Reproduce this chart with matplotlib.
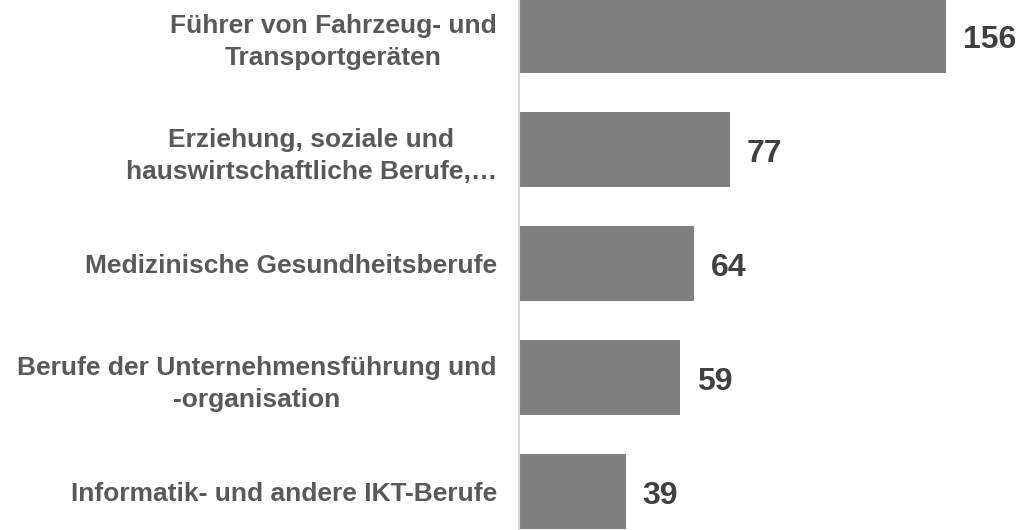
import matplotlib.pyplot as plt

categories = [
    "Führer von Fahrzeug- und\nTransportgeräten",
    "Erziehung, soziale und\nhauswirtschaftliche Berufe,…",
    "Medizinische Gesundheitsberufe",
    "Berufe der Unternehmensführung und\n-organisation",
    "Informatik- und andere IKT-Berufe",
]
values = [156, 77, 64, 59, 39]

plt.rcParams['font.family'] = ['Liberation Sans', 'DejaVu Sans']

fig = plt.figure(figsize=(10.17, 5.30), dpi=100)
ax = fig.add_axes([519 / 1017, 0, 1 - 519 / 1017, 1])

pos = list(range(len(values)))
ax.barh(pos, values, height=0.66, color="#7f7f7f")
ax.set_xlim(0, 182)
ax.set_ylim(4.338, -0.311)

# value labels to the right of each bar
for p, v in zip(pos, values):
    ax.annotate(str(v), (v, p), xytext=(12, -3), textcoords="offset points",
                ha="left", va="center", fontsize=23, fontweight="bold", color="#404040")

ax.set_yticks(pos)
ax.set_yticklabels(categories, fontsize=19, fontweight="bold", color="#595959",
                   ha="right", multialignment="center", linespacing=1.4)
ax.tick_params(axis="y", length=0, pad=16)
ax.set_xticks([])
for s in ["top", "right", "bottom"]:
    ax.spines[s].set_visible(False)
ax.spines["left"].set_color("#d9d9d9")
ax.spines["left"].set_linewidth(1.5)

fig.savefig("out.png", dpi=100)
